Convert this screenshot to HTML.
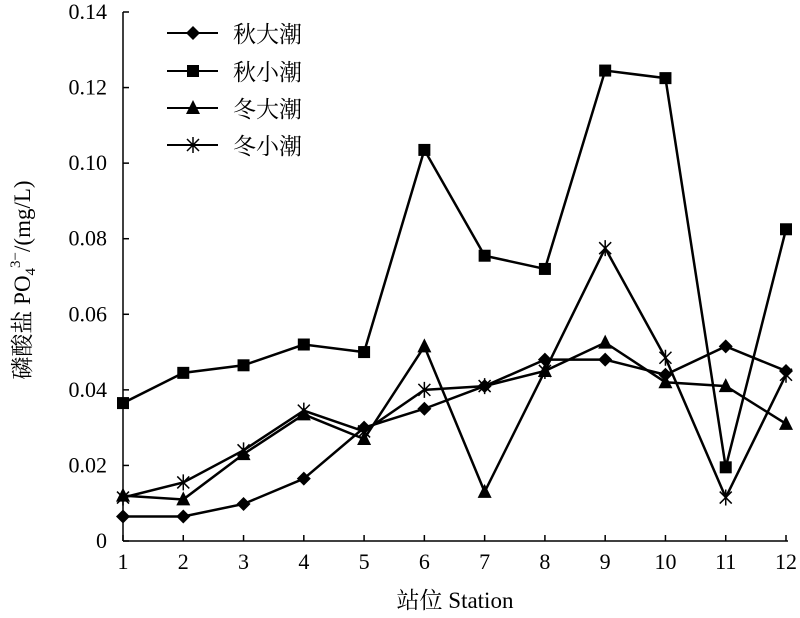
<!DOCTYPE html>
<html><head><meta charset="utf-8"><style>
body{margin:0;background:#fff;}
svg text{font-family:"Liberation Serif","Noto Serif CJK SC",serif;fill:#000;}
</style></head><body>
<svg id="chart" width="800" height="613" viewBox="0 0 800 613" xmlns="http://www.w3.org/2000/svg"></svg>
<script>
const categories=[1,2,3,4,5,6,7,8,9,10,11,12];
const yTicks=[0,0.02,0.04,0.06,0.08,0.10,0.12,0.14];
const yTickLabels=["0","0.02","0.04","0.06","0.08","0.10","0.12","0.14"];
const seriesNames=["秋大潮","秋小潮","冬大潮","冬小潮"];
const autumnSpring=[0.0065,0.0065,0.0098,0.0165,0.030,0.035,0.041,0.048,0.048,0.044,0.0515,0.045];
const autumnNeap=[0.0365,0.0445,0.0465,0.052,0.050,0.1035,0.0755,0.072,0.1245,0.1225,0.0195,0.0825];
const winterSpring=[0.012,0.011,0.023,0.0335,0.027,0.0515,0.013,0.045,0.0525,0.042,0.041,0.031];
const winterNeap=[0.0115,0.0155,0.024,0.0345,0.029,0.040,0.041,0.045,0.0775,0.0485,0.0115,0.044];
const svg=document.getElementById('chart');
const NS='http://www.w3.org/2000/svg';
const x0=123,x1=786,y0=541,y1=12;
function xs(v){return x0+(v-1)*(x1-x0)/11;}
function ys(v){return y0-v*(y0-y1)/0.14;}
function mk(t,a,p){const e=document.createElementNS(NS,t);for(const k in a)e.setAttribute(k,a[k]);(p||svg).appendChild(e);return e;}
let e=mk('line',{x1:x0,y1:y0,x2:x0,y2:y1,stroke:'#000','stroke-width':1.5});


e=mk('line',{x1:x0,y1:y0,x2:x1+2,y2:y0,stroke:'#000','stroke-width':1.5});


yTicks.forEach((v,i)=>{
 const t=mk('line',{x1:x0,y1:ys(v),x2:x0+6,y2:ys(v),stroke:'#000','stroke-width':1.5});
 
 
 const l=mk('text',{x:x0-16,y:ys(v)+7,'text-anchor':'end','font-size':22});
 l.textContent=yTickLabels[i];
 
 
});
categories.forEach(c=>{
 const t=mk('line',{x1:xs(c),y1:y0,x2:xs(c),y2:y0-6,stroke:'#000','stroke-width':1.5});
 
 
 const l=mk('text',{x:xs(c),y:y0+28,'text-anchor':'middle','font-size':22});
 l.textContent=c;
 
 
});
e=mk('text',{x:455,y:608,'text-anchor':'middle','font-size':23});
e.textContent='站位 Station';


e=mk('text',{x:0,y:0,'text-anchor':'middle','font-size':23,transform:'translate(30,280) rotate(-90)'});
e.innerHTML='磷酸盐 PO<tspan font-size="15" dy="5">4</tspan><tspan font-size="15" dy="-15">3−</tspan><tspan dy="10">/(mg/L)</tspan>';


function marker(type,x,y,g){
 if(type==0)return mk('polygon',{points:`${x},${y-7} ${x+7},${y} ${x},${y+7} ${x-7},${y}`,fill:'#000'},g);
 if(type==1)return mk('rect',{x:x-6,y:y-6,width:12,height:12,fill:'#000'},g);
 if(type==2)return mk('polygon',{points:`${x},${y-8} ${x+7},${y+6} ${x-7},${y+6}`,fill:'#000'},g);
 return mk('path',{d:`M${x-6},${y-6}L${x+6},${y+6}M${x+6},${y-6}L${x-6},${y+6}M${x},${y-8}L${x},${y+8}`,stroke:'#000','stroke-width':1.5,fill:'none'},g);
}
const allSeries=[autumnSpring,autumnNeap,winterSpring,winterNeap];
const slug=['autumn-spring-tide','autumn-neap-tide','winter-spring-tide','winter-neap-tide'];
allSeries.forEach((s,i)=>{
 const g=mk('g',{});
 
 
 const p=mk('polyline',{points:s.map((v,j)=>xs(categories[j])+','+ys(v)).join(' '),fill:'none',stroke:'#000','stroke-width':2.5},g);
 
 
 s.forEach((v,j)=>{
  const m=marker(i,xs(categories[j]),ys(v),g);
  
  
 });
});
const legY=[33,71,108,145];
seriesNames.forEach((n,i)=>{
 const g=mk('g',{});
 
 
 mk('line',{x1:167,y1:legY[i],x2:218,y2:legY[i],stroke:'#000','stroke-width':2},g);
 marker(i,193,legY[i],g);
 const t=mk('text',{x:233,y:legY[i]+9,'font-size':23},g);
 t.textContent=n;
});
</script>
</body></html>
